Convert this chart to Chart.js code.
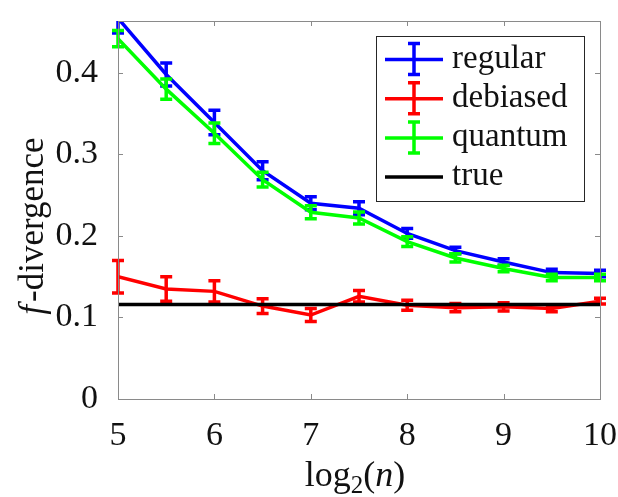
<!DOCTYPE html>
<html>
<head>
<meta charset="utf-8">
<script src="https://cdn.jsdelivr.net/npm/chart.js@4.4.1/dist/chart.umd.min.js"></script>
<style>
  html, body { margin: 0; padding: 0; background: #fff; }
  canvas { display: block; }
</style>
</head>
<body>
<canvas id="chart" width="618" height="497"></canvas>
<script>
// log2(n) sample points
const logN = [5, 5.5, 6, 6.5, 7, 7.5, 8, 8.5, 9, 9.5, 10];

const regular     = [0.467, 0.398, 0.339, 0.280, 0.240, 0.234, 0.203, 0.182, 0.168, 0.155, 0.154];
const regularErr  = [0.018, 0.014, 0.015, 0.011, 0.008, 0.008, 0.006, 0.004, 0.004, 0.004, 0.004];
const debiased    = [0.150, 0.135, 0.132, 0.114, 0.103, 0.126, 0.115, 0.112, 0.113, 0.111, 0.120];
const debiasedErr = [0.020, 0.015, 0.013, 0.009, 0.008, 0.007, 0.006, 0.005, 0.005, 0.004, 0.0035];
const quantum     = [0.442, 0.380, 0.326, 0.269, 0.229, 0.222, 0.193, 0.173, 0.160, 0.149, 0.149];
const quantumErr  = [0.010, 0.0125, 0.0125, 0.009, 0.008, 0.0075, 0.006, 0.005, 0.004, 0.004, 0.004];
const trueValue = 0.116;

const xTicks = [5, 6, 7, 8, 9, 10];
const yTicks = [0, 0.1, 0.2, 0.3, 0.4];

const FONT = "'Liberation Serif', 'Times New Roman', serif";
const AXIS_GREY = '#8a8a8a';

function toPoints(ys) {
    return logN.map((x, i) => ({ x: x, y: ys[i] }));
}

const series = [
    { label: 'regular', data: regular, err: regularErr, color: '#0000ff', order: 4 },
    { label: 'debiased', data: debiased, err: debiasedErr, color: '#ff0000', order: 3 },
    { label: 'quantum', data: quantum, err: quantumErr, color: '#00ff00', order: 2 }
];

const datasets = series.map(s => ({
    label: s.label,
    data: toPoints(s.data),
    errors: s.err,
    borderColor: s.color,
    backgroundColor: s.color,
    borderWidth: 3.5,
    pointRadius: 0,
    showLine: true,
    clip: 0,
    order: s.order
}));
datasets.push({
    label: 'true',
    data: [{ x: logN[0], y: trueValue }, { x: logN[logN.length - 1], y: trueValue }],
    borderColor: '#000000',
    backgroundColor: '#000000',
    borderWidth: 3.5,
    pointRadius: 0,
    showLine: true,
    clip: 0,
    order: 1
});

// error bars, drawn right after their own line so stacking matches
const errorBars = {
    id: 'errorBars',
    afterDatasetDraw(chart, args) {
        const ds = chart.data.datasets[args.index];
        if (!ds.errors) return;
        const ctx = chart.ctx;
        const xs = chart.scales.x, ys = chart.scales.y;
        const area = chart.chartArea;
        ctx.save();
        ctx.beginPath();
        ctx.rect(0, area.top, chart.width, area.bottom - area.top);
        ctx.clip();
        ctx.strokeStyle = ds.borderColor;
        ctx.lineWidth = 3.5;
        ctx.lineCap = 'butt';
        ds.data.forEach((p, i) => {
            const px = xs.getPixelForValue(p.x);
            const top = ys.getPixelForValue(p.y + ds.errors[i]);
            const bot = ys.getPixelForValue(p.y - ds.errors[i]);
            ctx.beginPath();
            ctx.moveTo(px, top);
            ctx.lineTo(px, bot);
            ctx.moveTo(px - 6, top);
            ctx.lineTo(px + 6, top);
            ctx.moveTo(px - 6, bot);
            ctx.lineTo(px + 6, bot);
            ctx.stroke();
        });
        ctx.restore();
    }
};

// axes box, inward ticks, axis titles and legend
const frame = {
    id: 'frame',
    afterDraw(chart) {
        const ctx = chart.ctx;
        const a = chart.chartArea;
        const xs = chart.scales.x, ys = chart.scales.y;
        ctx.save();
        ctx.strokeStyle = AXIS_GREY;
        ctx.lineWidth = 1;
        ctx.strokeRect(Math.round(a.left) + 0.5, Math.round(a.top) + 0.5,
            Math.round(a.right - a.left), Math.round(a.bottom - a.top));
        ctx.beginPath();
        xTicks.forEach(v => {
            const px = Math.round(xs.getPixelForValue(v)) + 0.5;
            ctx.moveTo(px, a.bottom); ctx.lineTo(px, a.bottom - 5);
            ctx.moveTo(px, a.top); ctx.lineTo(px, a.top + 5);
        });
        yTicks.forEach(v => {
            const py = Math.round(ys.getPixelForValue(v)) + 0.5;
            ctx.moveTo(a.left, py); ctx.lineTo(a.left + 5, py);
            ctx.moveTo(a.right, py); ctx.lineTo(a.right - 5, py);
        });
        ctx.stroke();

        // y title: italic f + "-divergence"
        ctx.fillStyle = '#111';
        ctx.textBaseline = 'alphabetic';
        ctx.textAlign = 'left';
        ctx.save();
        ctx.translate(43, 226);
        ctx.rotate(-Math.PI / 2);
        const fItal = 'italic 35px ' + FONT;
        const fNorm = '35px ' + FONT;
        ctx.font = fItal;
        const wf = ctx.measureText('f').width + 3;
        ctx.font = fNorm;
        const wr = ctx.measureText('-divergence').width;
        let sx = -(wf + wr) / 2;
        ctx.font = fItal;
        ctx.fillText('f', sx, 0);
        ctx.font = fNorm;
        ctx.fillText('-divergence', sx + wf, 0);
        ctx.restore();

        // x title: log_2(n)
        const parts = [
            { t: 'log', font: '36px ' + FONT, dy: 0 },
            { t: '2', font: '25px ' + FONT, dy: 7 },
            { t: '(', font: '36px ' + FONT, dy: 0 },
            { t: 'n', font: 'italic 36px ' + FONT, dy: 0 },
            { t: ')', font: '36px ' + FONT, dy: 0 }
        ];
        let total = 0;
        parts.forEach(p => { ctx.font = p.font; p.w = ctx.measureText(p.t).width; total += p.w; });
        let cx = 355 - total / 2;
        parts.forEach(p => {
            ctx.font = p.font;
            ctx.fillText(p.t, cx, 486 + p.dy);
            cx += p.w;
        });

        // legend
        const box = { l: 376.5, t: 36.5, r: 584.5, b: 201.5 };
        ctx.fillStyle = '#fff';
        ctx.fillRect(box.l, box.t, box.r - box.l, box.b - box.t);
        ctx.strokeStyle = '#262626';
        ctx.lineWidth = 1;
        ctx.strokeRect(box.l, box.t, box.r - box.l, box.b - box.t);
        const rows = [
            { label: 'regular', color: '#0000ff', bar: true },
            { label: 'debiased', color: '#ff0000', bar: true },
            { label: 'quantum', color: '#00ff00', bar: true },
            { label: 'true', color: '#000000', bar: false }
        ];
        ctx.font = '33px ' + FONT;
        rows.forEach((r, i) => {
            const y = 59.5 + i * 39.2;
            ctx.strokeStyle = r.color;
            ctx.lineWidth = 3.5;
            ctx.beginPath();
            ctx.moveTo(385, y); ctx.lineTo(443, y);
            if (r.bar) {
                ctx.moveTo(414, y - 16); ctx.lineTo(414, y + 15);
                ctx.moveTo(408, y - 16); ctx.lineTo(420, y - 16);
                ctx.moveTo(408, y + 15); ctx.lineTo(420, y + 15);
            }
            ctx.stroke();
            ctx.fillStyle = '#111';
            ctx.fillText(r.label, 452, y + 8);
        });
        ctx.restore();
    }
};

const chart = new Chart(document.getElementById('chart'), {
    type: 'scatter',
    data: { datasets: datasets },
    options: {
        responsive: false,
        animation: false,
        devicePixelRatio: 1,
        layout: { padding: { left: 0, top: 21, right: 18, bottom: 0 } },
        plugins: {
            legend: { display: false },
            tooltip: { enabled: false }
        },
        scales: {
            x: {
                type: 'linear',
                min: 5,
                max: 10,
                afterBuildTicks: s => { s.ticks = xTicks.map(v => ({ value: v })); },
                afterFit: s => { s.height = 98; s.paddingLeft = 0; s.paddingRight = 0; },
                grid: { display: false },
                border: { display: false },
                ticks: {
                    color: '#111',
                    padding: 9,
                    maxRotation: 0,
                    font: { family: FONT, size: 34 },
                    callback: v => String(v)
                }
            },
            y: {
                type: 'linear',
                min: 0,
                max: 0.4636,
                afterBuildTicks: s => { s.ticks = yTicks.map(v => ({ value: v })); },
                afterFit: s => { s.width = 118; s.paddingTop = 0; s.paddingBottom = 0; },
                grid: { display: false },
                border: { display: false },
                ticks: {
                    color: '#111',
                    padding: 12,
                    font: { family: FONT, size: 34 },
                    callback: v => String(Number(v.toFixed(1)))
                }
            }
        }
    },
    plugins: [errorBars, frame]
});
</script>
</body>
</html>
